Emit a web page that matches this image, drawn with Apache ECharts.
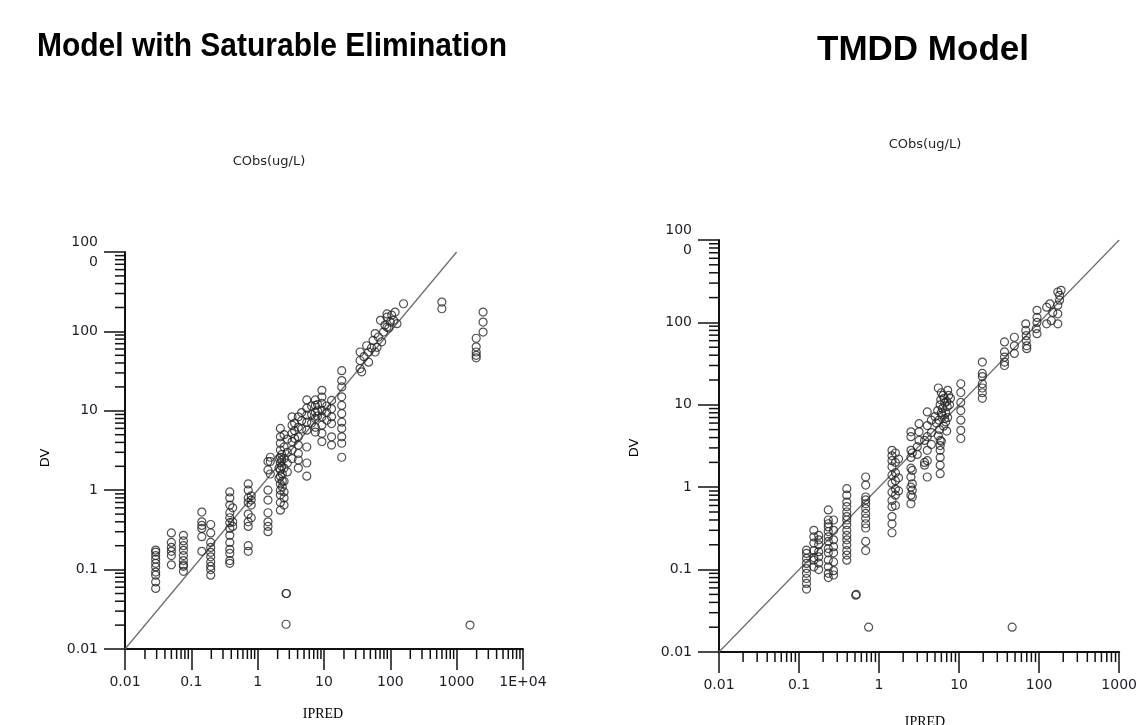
<!DOCTYPE html>
<html><head><meta charset="utf-8">
<script src="https://cdn.jsdelivr.net/npm/echarts@6/dist/echarts.min.js"></script>
<style>html,body{margin:0;padding:0;background:#fff}#c{width:1140px;height:725px}</style>
</head><body><div id="c"></div>
<script>
// ---------- DATA ----------
const leftTitle = 'Model with Saturable Elimination';
const rightTitle = 'TMDD Model';
const subTitle = 'CObs(ug/L)';
const xName = 'IPRED';
const yName = 'DV';

const leftXTickLabels = ['0.01','0.1','1','10','100','1000','1E+04'];
const rightXTickLabels = ['0.01','0.1','1','10','100','1000'];
const yTickLabels = ['0.01','0.1','1','10','100','100\n0'];
const leftXDecades = [0.01,0.1,1,10,100,1000,10000];
const rightXDecades = [0.01,0.1,1,10,100,1000];
const yDecades = [0.01,0.1,1,10,100,1000];
const minorMultipliers = [2,3,4,5,6,7,8,9];
const identityLine = [[0.01,0.01],[1000,1000]];

// Model with Saturable Elimination: [IPRED, DV]
const leftPoints = [
 [0.029,0.176],[0.029,0.166],[0.029,0.150],[0.029,0.135],[0.029,0.12],[0.029,0.108],[0.029,0.093],[0.029,0.085],[0.029,0.07],[0.029,0.058],
 [0.05,0.29],[0.05,0.22],[0.05,0.19],[0.05,0.17],[0.05,0.15],[0.05,0.115],
 [0.076,0.27],[0.076,0.23],[0.076,0.2],[0.076,0.175],[0.076,0.15],[0.076,0.13],[0.076,0.115],[0.076,0.11],[0.076,0.095],
 [0.144,0.53],[0.144,0.4],[0.144,0.36],[0.144,0.33],[0.144,0.26],[0.144,0.17],
 [0.196,0.37],[0.196,0.29],[0.196,0.22],[0.196,0.19],[0.196,0.165],[0.196,0.145],[0.196,0.125],[0.196,0.11],[0.196,0.1],[0.196,0.085],
 [0.38,0.95],[0.38,0.8],[0.38,0.65],[0.38,0.52],[0.38,0.45],[0.38,0.39],[0.38,0.33],[0.38,0.27],[0.38,0.22],[0.38,0.18],[0.38,0.16],[0.38,0.13],[0.38,0.12],
 [0.42,0.6],[0.42,0.4],[0.42,0.35],
 [0.72,1.2],[0.72,1.0],[0.72,0.8],[0.72,0.7],[0.72,0.5],[0.72,0.4],[0.72,0.35],[0.72,0.2],[0.72,0.17],
 [0.8,0.85],[0.8,0.75],[0.8,0.65],[0.8,0.45],
 [1.43,2.3],[1.43,1.8],[1.43,1.0],[1.43,0.75],[1.43,0.52],[1.43,0.4],[1.43,0.35],[1.43,0.3],
 [1.55,2.6],[1.55,2.3],[1.55,1.6],
 [2.2,6.0],[2.2,4.7],[2.2,3.9],[2.2,3.2],[2.2,2.6],[2.2,2.2],[2.2,1.8],[2.2,1.5],[2.2,1.2],[2.2,1.0],[2.2,0.87],[2.2,0.7],[2.2,0.56],
 [2.3,2.8],[2.3,2.4],[2.3,2.0],[2.35,1.6],[2.35,1.3],[2.35,1.1],[2.1,2.5],[2.1,1.9],[2.1,1.4],
 [2.5,5.0],[2.5,3.5],[2.5,2.5],[2.5,1.9],[2.5,1.3],[2.5,0.95],[2.5,0.8],[2.5,0.65],
 [2.8,4.4],[2.8,3.0],[2.8,2.2],[2.8,1.7],
 [3.3,8.4],[3.3,6.6],[3.3,5.2],[3.3,4.1],[3.3,3.2],[3.3,2.5],
 [3.6,7.0],[3.6,5.6],[3.6,4.5],
 [4.1,8.4],[4.1,6.2],[4.1,4.7],[4.1,3.7],[4.1,2.9],[4.1,2.4],[4.1,1.9],
 [4.6,9.5],[4.6,7.5],[4.6,5.9],
 [5.5,13.7],[5.5,10.8],[5.5,8.8],[5.5,7.2],[5.5,5.7],[5.5,3.5],[5.5,2.2],[5.5,1.5],
 [6.5,9],[6.5,7],[6.5,11.5],[8,10],[8,12],[8,8.6],
 [7.4,13.7],[7.4,11.7],[7.4,9.6],[7.4,8.0],[7.4,6.2],[7.4,5.4],
 [9.3,18.1],[9.3,14.9],[9.3,12.4],[9.3,10.1],[9.3,8.4],[9.3,6.6],[9.3,5.2],[9.3,4.1],
 [11,11.5],[11,9.5],[11,7.6],
 [13,13.5],[13,10.6],[13,8.4],[13,6.9],[13,4.7],[13,3.7],
 [18.5,32],[18.5,24],[18.5,20],[18.5,15],[18.5,11.7],[18.5,9.2],[18.5,7.2],[18.5,6.0],[18.5,4.7],[18.5,3.9],[18.5,2.6],
 [35,55],[35,43],[35,34],[37,31],[44,66],[47,55],[47,41],[55,77],[59,94],[59,55],[63,63],[71,138],[74,74],[79,98],
 [40,48],[52,62],[66,85],[83,120],[95,110],[105,160],
 [89,166],[89,151],[89,113],[100,131],[112,138],[118,175],[126,125],[158,223],
 [598,234],[598,193],
 [2500,175],[2500,131],[2500,98],[1970,82],[1970,64],[1970,55],[1970,50],[1970,46.5],
 [2.68,0.05],[2.72,0.05],[2.68,0.0205],[1590,0.02]
];

// TMDD Model: [IPRED, DV]
const rightPoints = [
 [0.124,0.172],[0.124,0.157],[0.124,0.137],[0.124,0.119],[0.124,0.103],[0.124,0.09],[0.124,0.078],[0.124,0.068],[0.124,0.058],
 [0.153,0.30],[0.153,0.25],[0.153,0.21],[0.153,0.17],[0.153,0.14],[0.153,0.13],[0.153,0.108],
 [0.176,0.26],[0.176,0.23],[0.176,0.20],[0.176,0.165],[0.176,0.143],[0.176,0.12],[0.176,0.10],
 [0.232,0.53],[0.232,0.40],[0.232,0.36],[0.232,0.33],[0.232,0.29],[0.232,0.25],[0.232,0.22],[0.232,0.18],[0.232,0.16],[0.232,0.13],[0.232,0.108],[0.232,0.09],[0.232,0.08],
 [0.27,0.40],[0.27,0.30],[0.27,0.23],[0.27,0.19],[0.27,0.16],[0.27,0.124],[0.27,0.097],[0.27,0.086],
 [0.395,0.96],[0.395,0.80],[0.395,0.66],[0.395,0.58],[0.395,0.50],[0.395,0.44],[0.395,0.40],[0.395,0.35],[0.395,0.30],[0.395,0.26],[0.395,0.23],[0.395,0.20],[0.395,0.17],[0.395,0.15],[0.395,0.13],
 [0.68,1.33],[0.68,1.06],[0.68,0.76],[0.68,0.70],[0.68,0.63],[0.68,0.55],[0.68,0.48],[0.68,0.42],[0.68,0.36],[0.68,0.32],[0.68,0.22],[0.68,0.17],
 [1.45,2.8],[1.45,2.4],[1.45,2.1],[1.45,1.77],[1.45,1.4],[1.45,1.11],[1.45,0.87],[1.45,0.69],[1.45,0.58],[1.45,0.44],[1.45,0.36],[1.45,0.28],
 [1.6,2.6],[1.6,2.0],[1.6,1.5],[1.6,1.2],[1.6,0.95],[1.6,0.8],[1.6,0.6],
 [1.75,2.2],[1.75,1.3],[1.75,0.9],
 [2.5,4.7],[2.5,4.1],[2.5,2.8],[2.5,2.3],[2.5,1.7],[2.5,1.33],[2.5,1.0],[2.5,0.8],[2.5,0.63],
 [2.6,2.6],[2.6,1.6],[2.6,1.1],[2.6,0.92],[2.6,0.76],
 [3.16,5.9],[3.16,4.7],[3.16,3.7],[3.0,2.5],[3.0,3.1],
 [4.0,8.2],[4.0,5.6],[4.0,4.1],[4.0,2.8],[4.0,2.1],[4.0,1.33],[3.7,3.7],[3.7,2.0],[3.7,1.85],
 [4.5,6.5],[4.5,4.6],[4.5,3.3],
 [5.8,3.7],[5.8,3.2],[5.8,2.8],[5.8,2.3],[5.8,1.85],[5.8,1.46],
 [5.5,16],[6,14],[6.5,12],[5.8,10],[6.2,9],[6.8,8],[7.2,7],[5.6,6.5],[6.4,5.5],[7,4.8],[5.5,4.2],[6,3.6],
 [7.4,13],[7,11],[6.6,10.5],[5.4,8.5],[6.1,7.5],[7.2,15],[6.3,13],[5.9,11.5],[6.8,6.2],[5.7,5],[7.1,9.5],
 [6.0,8.0],[6.6,6.8],[7.6,10],[5.2,6],[5.0,7.2],[7.8,12],
 [10.5,18],[10.5,14.1],[10.5,10.7],[10.5,8.5],[10.5,6.5],[10.5,4.9],[10.5,3.9],
 [19.5,33],[19.5,24],[19.5,22],[19.5,18],[19.5,16],[19.5,14],[19.5,12],
 [36.9,58],[36.9,44],[36.9,38],[36.9,33],[36.9,30],[49,66],[49,52],[49,42],
 [68,96],[68,80],[69,69],[69,60],[70,52],[70,48],
 [94,140],[94,115],[94,100],[92,84],[94,73],[124,153],[124,96],[136,168],[148,132],[142,105],
 [171,234],[180,213],[180,186],[171,162],[171,127],[171,96],[188,245],
 [0.51,0.049],[0.52,0.05],[0.74,0.02],[46,0.02]
];

// ---------- BUILD ----------
const decadeIndex = v => Math.round(Math.log10(v)) + 2;
function minorTicks(decades){
  const out=[];
  for(let i=0;i<decades.length-1;i++) for(const m of minorMultipliers) out.push(decades[i]*m);
  return out;
}
const AX = '#111', LBL = '#1e1e28';
const labelFont = {fontFamily:'DejaVu Sans', fontSize:14, color:LBL};

function xAxis(gi, max, labels){
  return {type:'log', logBase:10, gridIndex:gi, min:0.01, max:max, splitNumber:10,
    axisLine:{show:true, onZero:false, lineStyle:{color:AX,width:2}},
    axisTick:{show:true, inside:false, length:21, lineStyle:{color:AX,width:1.5}},
    minorTick:{show:false}, splitLine:{show:false},
    axisLabel:Object.assign({margin:26, formatter:v=>labels[decadeIndex(v)]}, labelFont)};
}
function yAxis(gi){
  return {type:'log', logBase:10, gridIndex:gi, min:0.01, max:1000, splitNumber:10,
    axisLine:{show:true, onZero:false, lineStyle:{color:AX,width:2}},
    axisTick:{show:true, inside:false, length:21, lineStyle:{color:AX,width:1.5}},
    minorTick:{show:false}, splitLine:{show:false},
    axisLabel:Object.assign({margin:27, lineHeight:20, formatter:v=>yTickLabels[decadeIndex(v)]}, labelFont)};
}
function tickSeries(gi, values, dir){
  const data = values.map(v => dir==='x' ? [v,0.01] : [0.01,v]);
  return {type:'custom', xAxisIndex:gi, yAxisIndex:gi, silent:true, clip:false, z:5, data:data,
    renderItem:(params, api)=>{
      const p = api.coord([api.value(0), api.value(1)]);
      const shape = dir==='x' ? {x1:p[0],y1:p[1],x2:p[0],y2:p[1]+10} : {x1:p[0],y1:p[1],x2:p[0]-10,y2:p[1]};
      return {type:'line', shape:shape, style:{stroke:AX, lineWidth:1.5}};
    }};
}
function scatter(gi, pts){
  return {type:'scatter', xAxisIndex:gi, yAxisIndex:gi, data:pts, symbol:'circle', symbolSize:8, z:3,
    itemStyle:{color:'rgba(0,0,0,0)', borderColor:'#262626', borderWidth:1.2}, silent:true};
}
function diag(gi){
  return {type:'line', xAxisIndex:gi, yAxisIndex:gi, data:identityLine, showSymbol:false, silent:true, z:2,
    lineStyle:{color:'#6a6a6a', width:1.2}};
}
function txt(text, x, y, font, extra){
  const el = {type:'text', x:x, y:y, silent:true,
    style:{text:text, font:font, fill:'#000', align:'center', verticalAlign:'middle'}};
  return Object.assign(el, extra||{});
}
const smallFont = '13px "DejaVu Sans", sans-serif';

const chart = echarts.init(document.getElementById('c'), null, {renderer:'canvas'});
chart.setOption({
  animation:false,
  backgroundColor:'#fff',
  grid:[
    {left:125, right:617, top:252, bottom:76, containLabel:false},
    {left:719, right:8, top:240, bottom:73, containLabel:false}
  ],
  xAxis:[xAxis(0,10000,leftXTickLabels), xAxis(1,1000,rightXTickLabels)],
  yAxis:[yAxis(0), yAxis(1)],
  series:[
    diag(0), scatter(0,leftPoints),
    tickSeries(0, minorTicks(leftXDecades),'x'), tickSeries(0, minorTicks(yDecades),'y'),
    diag(1), scatter(1,rightPoints),
    tickSeries(1, minorTicks(rightXDecades),'x'), tickSeries(1, minorTicks(yDecades),'y')
  ],
  graphic:[
    txt(leftTitle, 272, 47, 'bold 30px "Liberation Sans", Arial, sans-serif', {scaleY:1.08}),
    txt(rightTitle, 923, 50, 'bold 35px "Liberation Sans", Arial, sans-serif'),
    {type:'text', x:269, y:162, silent:true, style:{text:subTitle, font:smallFont, fill:LBL, align:'center', verticalAlign:'middle'}},
    {type:'text', x:925, y:145, silent:true, style:{text:subTitle, font:smallFont, fill:LBL, align:'center', verticalAlign:'middle'}},
    txt(yName, 46, 458, smallFont, {rotation:Math.PI/2}),
    txt(yName, 635, 448, smallFont, {rotation:Math.PI/2}),
    txt(xName, 323, 714, '14px "Liberation Serif", serif'),
    txt(xName, 925, 722, '14px "Liberation Serif", serif')
  ]
});
</script></body></html>
